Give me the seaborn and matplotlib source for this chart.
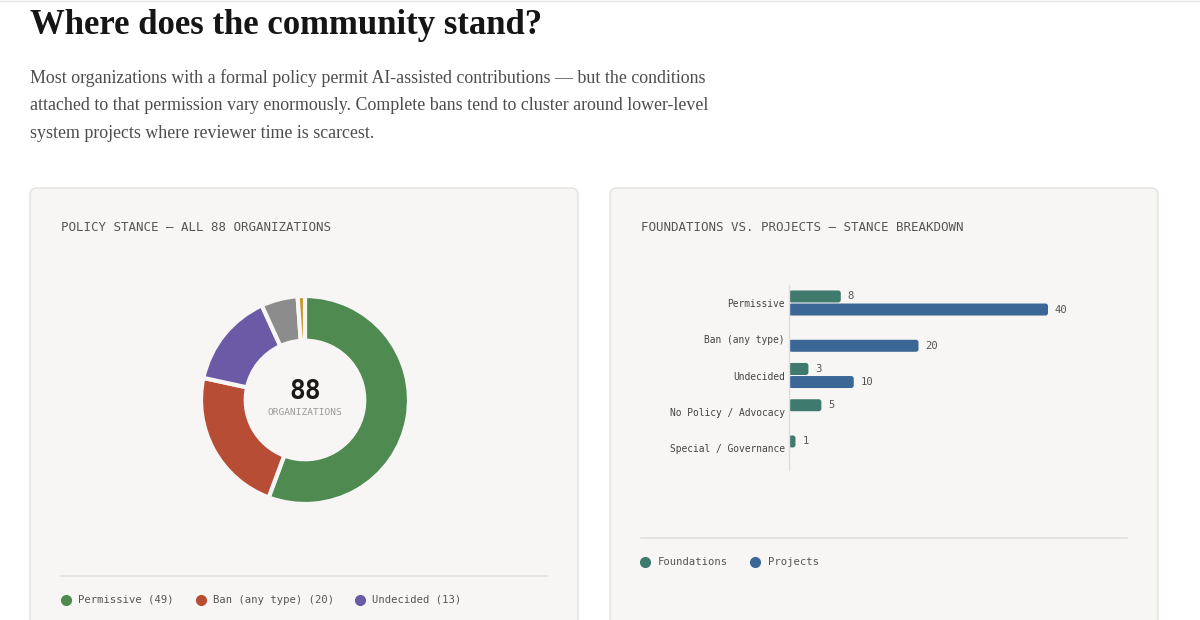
import seaborn as sns
import pandas as pd
import matplotlib.pyplot as plt
from matplotlib.patches import FancyBboxPatch
from matplotlib.lines import Line2D

# data
stances = ["Permissive", "Ban (any type)", "Undecided", "No Policy / Advocacy", "Special / Governance"]
stance_counts = [49, 20, 13, 5, 1]
stance_colors = ["#4f8a50", "#b84d35", "#6b5ba6", "#8c8c8c", "#c49a2c"]

foundations = [8, 0, 3, 5, 1]
projects = [40, 20, 10, 0, 0]
group_names = ["Foundations", "Projects"]
group_colors = ["#3f7a6d", "#3a6796"]

legend_items = ["Permissive (49)", "Ban (any type) (20)", "Undecided (13)"]

title = "Where does the community stand?"
subtitle = [
    "Most organizations with a formal policy permit AI-assisted contributions \u2014 but the conditions",
    "attached to that permission vary enormously. Complete bans tend to cluster around lower-level",
    "system projects where reviewer time is scarcest.",
]

sns.set_theme(style="white")
plt.rcParams["font.family"] = ["DejaVu Sans Mono", "DejaVu Sans"]

W, H = 1200, 620
fig = plt.figure(figsize=(12, 6.2), dpi=100)
fig.patch.set_facecolor("white")


def fx(x):
    return x / W


def fy(y):
    return 1 - y / H


CARD = "#f7f6f4"
MONO = "DejaVu Sans Mono"
SERIF = "Liberation Serif"

# page top rule
fig.add_artist(Line2D([0, 1], [fy(1), fy(1)], color="#e6e6e6", lw=1, transform=fig.transFigure))

# cards
for left in (30, 610):
    card = FancyBboxPatch((left / 100, -0.2), 5.48, (H - 188) / 100 + 0.2,
                          boxstyle="round,pad=0,rounding_size=0.07",
                          facecolor=CARD, edgecolor="#e3e1dd", lw=1,
                          transform=fig.dpi_scale_trans, zorder=0)
    fig.add_artist(card)

# heading
fig.text(fx(30), fy(25), title, family=SERIF, weight="bold", size=25,
         color="#151515", va="center", ha="left")
for i, line in enumerate(subtitle):
    fig.text(fx(30), fy(78 + 28 * i), line, family=SERIF, size=12.9,
             color="#4d4d4d", va="center", ha="left")

fig.text(fx(61), fy(228), "POLICY STANCE \u2014 ALL 88 ORGANIZATIONS", family=MONO,
         size=9.0, color="#555555", va="center")
fig.text(fx(641), fy(228), "FOUNDATIONS VS. PROJECTS \u2014 STANCE BREAKDOWN", family=MONO,
         size=9.0, color="#555555", va="center")

# donut
cx, cy, r = 305, 400, 104
ax1 = fig.add_axes([fx(cx - r), fy(cy + r), 2 * r / W, 2 * r / H])
ax1.pie(stance_counts, colors=stance_colors, startangle=90, counterclock=False,
        wedgeprops=dict(width=0.43, edgecolor=CARD, linewidth=3))
ax1.set_xlim(-1, 1)
ax1.set_ylim(-1, 1)
ax1.set_aspect("equal")
ax1.axis("off")
ax1.text(0, 0.08, str(sum(stance_counts)), ha="center", va="center",
         family=MONO, weight="bold", size=19, color="#1a1a1a")
ax1.text(0, -0.12, "ORGANIZATIONS", ha="center", va="center",
         family=MONO, size=6.8, color="#9a9a9a")

# left legend
fig.add_artist(Line2D([fx(61), fx(547)], [fy(576), fy(576)], color="#e4e2de", lw=1.3,
                      transform=fig.transFigure))
for x, label, color in zip([66, 201, 360], legend_items, stance_colors):
    fig.add_artist(Line2D([fx(x)], [fy(600)], marker="o", ms=7, color=color, lw=0,
                          transform=fig.transFigure))
    fig.text(fx(x + 12), fy(600), label, family=MONO, size=7.6, color="#555555", va="center")

# grouped bars
df = pd.DataFrame({
    "stance": stances * 2,
    "group": [group_names[0]] * len(stances) + [group_names[1]] * len(stances),
    "count": foundations + projects,
})

top_px, bot_px, step = 285, 470, 36.25
c0 = 303
ax2 = fig.add_axes([fx(789), fy(bot_px), (1127 - 789) / W, (bot_px - top_px) / H])
sns.barplot(data=df, y="stance", x="count", hue="group", order=stances,
            hue_order=group_names, palette=group_colors, saturation=1,
            width=0.72, gap=0.08, orient="h", legend=False, ax=ax2)
xmax = (1127 - 789) / (259 / 40)
ax2.set_xlim(0, xmax)
ax2.set_ylim((bot_px - c0) / step, (top_px - c0) / step)
ax2.set_facecolor("none")

for cont in ax2.containers:
    labels = [f"{v:g}" if v > 0 else "" for v in cont.datavalues]
    ax2.bar_label(cont, labels=labels, padding=5, family=MONO, size=7.6, color="#555555")

px_x = xmax / (1127 - 789)
px_y = 1 / step
for p in list(ax2.patches):
    p.set_visible(False)
    w = p.get_width()
    if w <= 0:
        continue
    rb = FancyBboxPatch((p.get_x(), p.get_y()), w, p.get_height(),
                        boxstyle=f"round,pad=0,rounding_size={2.6 * px_x}",
                        mutation_aspect=px_y / px_x,
                        facecolor=p.get_facecolor(), edgecolor="none", lw=0)
    ax2.add_patch(rb)

for s in ["top", "right", "bottom"]:
    ax2.spines[s].set_visible(False)
ax2.spines["left"].set_color("#dddddd")
ax2.spines["left"].set_linewidth(1)
ax2.set_xticks([])
ax2.set_xlabel("")
ax2.set_ylabel("")
ax2.tick_params(axis="y", length=0, pad=3, labelsize=6.9, labelcolor="#444444")
for t in ax2.get_yticklabels():
    t.set_family(MONO)

# right legend
fig.add_artist(Line2D([fx(641), fx(1127)], [fy(538), fy(538)], color="#e4e2de", lw=1.3,
                      transform=fig.transFigure))
for x, label, color in zip([645, 755], group_names, group_colors):
    fig.add_artist(Line2D([fx(x)], [fy(562)], marker="o", ms=7, color=color, lw=0,
                          transform=fig.transFigure))
    fig.text(fx(x + 13), fy(562), label, family=MONO, size=7.6, color="#555555", va="center")

fig.savefig("out.png", dpi=100, facecolor="white")
